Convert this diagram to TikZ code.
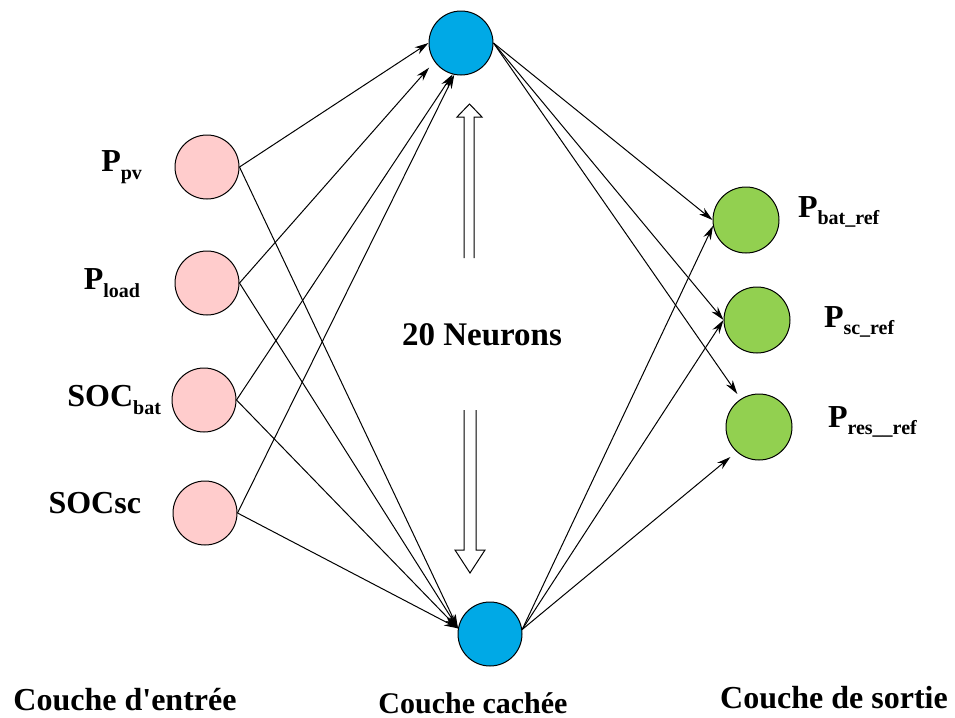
\documentclass[tikz,border=0pt]{standalone}
\usepackage{fontspec}
\setmainfont{Liberation Serif}
\usetikzlibrary{arrows.meta, positioning}
\definecolor{inpink}{RGB}{255,204,204}
\definecolor{hidblue}{RGB}{0,169,230}
\definecolor{outgreen}{RGB}{146,208,80}
\newcommand{\subtxt}[1]{\raisebox{-0.5ex}{\fontsize{10}{10}\selectfont #1}}

\begin{document}
\begin{tikzpicture}[x=0.5pt, y=-0.5pt, line width=0.5pt,
    neur/.style={circle, draw, inner sep=0pt, minimum size=32pt},
    inneur/.style={neur, fill=inpink},
    hidneur/.style={neur, fill=hidblue},
    outneur/.style={neur, fill=outgreen, minimum size=33pt},
    lbl/.style={font=\fontsize{16}{19}\selectfont\bfseries, inner sep=0pt},
    layer/.style={font=\fontsize{16}{20}\selectfont\bfseries, inner sep=0pt},
    conn/.style={-{Stealth[length=7pt, width=4pt]}}]
\useasboundingbox (0,0) rectangle (955,718);

% input layer
\node[inneur] (ppv)    at (207,167) {};
\node[inneur] (pload)  at (207,283) {};
\node[inneur] (socbat) at (204,400) {};
\node[inneur] (socsc)  at (205,513) {};
\node[lbl, left=16pt of ppv]   {P\subtxt{pv}};
\node[lbl, left=17pt of pload] {P\subtxt{load}};
\node[lbl, left=5pt of socbat]   {SOC\subtxt{bat}};
\node[lbl, left=15.5pt of socsc, yshift=5pt] {SOCsc};

% hidden layer
\node[hidneur] (h1) at (461,43) {};
\node[hidneur] (h2) at (490,634) {};
\node[font=\fontsize{16.5}{20}\selectfont\bfseries] (nb) at (482,335) {20 Neurons};
\draw[fill=white] (464,258) -- (464,117) -- (457,117) -- (469.5,104)
      -- (482,117) -- (474,117) -- (474,258);
\draw[fill=white] (464,410) -- (464,550) -- (455,550) -- (470,573)
      -- (485,550) -- (476,550) -- (476,410);

% output layer
\node[outneur] (pbat) at (746,220) {};
\node[outneur] (psc)  at (757,320) {};
\node[outneur] (pres) at (759,427) {};
\node[lbl, right=9pt of pbat, yshift=4pt]     {P\subtxt{bat\_ref}};
\node[lbl, right=16.5pt of psc, yshift=-1pt]  {P\subtxt{sc\_ref}};
\node[lbl, right=17.5pt of pres, yshift=2.5pt] {P\subtxt{res\_\_ref}};

% connections
\draw[conn] (ppv.east) -- (h1.west);
\draw[conn, shorten >=4pt] (pload.east) -- (h1.215);
\draw[conn] (socbat.east) -- (h1.255);
\draw[conn] (socsc.east) -- (h1.258);
\foreach \n in {ppv, pload, socbat, socsc}
    \draw[conn] (\n.east) -- (h2.170);

\draw[conn] (h1.east) -- (pbat.west);
\draw[conn] (h1.east) -- (psc.west);
\draw[conn, shorten >=3pt] (h1.east) -- (pres.123);
\draw[conn] (h2.8) -- (pbat.190);
\draw[conn] (h2.8) -- (psc.west);
\draw[conn, shorten >=4pt] (h2.8) -- (pres.228);

% layer titles
\node[layer] at (125,700) {Couche d\textquotesingle entrée};
\node[layer, font=\fontsize{15}{19}\selectfont\bfseries] at (473,703) {Couche cachée};
\node[layer] at (834,698) {Couche de sortie};
\end{tikzpicture}
\end{document}
